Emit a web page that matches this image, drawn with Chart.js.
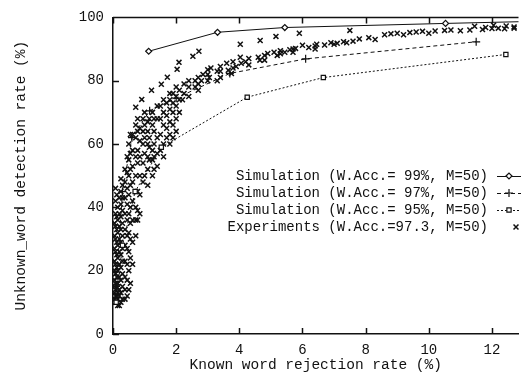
<!DOCTYPE html>
<html>
<head>
<meta charset="utf-8">
<script src="https://cdn.jsdelivr.net/npm/chart.js@4"></script>
<style>
  html, body { margin: 0; padding: 0; background: #fff; }
  #wrap { width: 524px; height: 374px; }
</style>
</head>
<body>
<div id="wrap"><canvas id="chart" width="524" height="374"></canvas></div>
<script>
// series
const SIM99_X = [1.13, 3.31, 5.44, 10.53, 14.0];
const SIM99_Y = [89.3, 95.3, 96.8, 98.1, 98.9];
const SIM97_X = [0.1, 0.3, 0.6, 1.16, 2.0, 3.7, 6.1, 11.5];
const SIM97_Y = [15, 45, 62, 70.5, 74.5, 82.3, 86.9, 92.3];
const SIM95_X = [0.1, 0.3, 0.7, 1.53, 4.25, 6.66, 12.44];
const SIM95_Y = [10, 28, 45, 59, 74.8, 81, 88.3];

const EXP_X = [
  0.08, 0.08, 0.08, 0.08, 0.08, 0.08, 0.08, 0.08, 0.08, 0.08, 0.08, 0.08,
  0.15, 0.15, 0.15, 0.15, 0.15, 0.15, 0.15, 0.15, 0.15, 0.15,
  0.25, 0.25, 0.25, 0.25, 0.25, 0.25, 0.25, 0.25, 0.25, 0.25, 0.25,
  0.38, 0.38, 0.38, 0.38, 0.38, 0.38, 0.38, 0.38, 0.38, 0.38,
  0.5, 0.5, 0.5, 0.5, 0.5, 0.5, 0.5, 0.5, 0.5,
  0.62, 0.62, 0.62, 0.62, 0.62, 0.62, 0.62, 0.62,
  0.72, 0.72, 0.72, 0.72, 0.72, 0.72, 0.72, 0.72, 0.72,
  0.85, 0.85, 0.85, 0.85, 0.85, 0.85,
  0.95, 0.95, 0.95, 0.95, 0.95,
  1.1, 1.1, 1.1, 1.1, 1.1, 1.1,
  1.25, 1.25, 1.25, 1.25, 1.25,
  1.4, 1.4, 1.4, 1.4, 1.4,
  1.6, 1.6, 1.6, 1.6, 1.6,
  1.8, 1.8, 1.8, 1.8, 1.8, 1.8,
  2.0, 2.0, 2.0, 2.0, 2.0,
  2.25, 2.25, 2.2, 2.6, 2.6, 2.8, 2.85, 3.05, 3.1, 3.3, 3.3,
  3.6, 3.65, 3.75, 3.9, 4.03, 4.06, 4.2, 4.6, 4.65, 4.9, 5.1, 5.2, 5.44, 5.6, 5.78, 6.0,
  6.2, 6.45, 6.7, 6.9, 7.1, 7.3, 7.6, 7.8, 8.1, 8.6, 8.8, 9.0, 9.4, 9.6, 9.8,
  10.2, 10.5, 10.7, 11.0, 11.3, 11.7, 12.0, 12.4, 12.7,
  0.91, 1.22, 1.53, 1.72, 2.03, 2.09, 2.53, 2.72, 4.03, 4.66, 5.16, 5.9, 7.5,
  11.45, 11.8, 12.05, 12.2, 12.45, 12.7,
  0.05, 0.05, 0.05, 0.05, 0.05, 0.05, 0.05, 0.05, 0.05,
  0.12, 0.12, 0.12, 0.12, 0.12, 0.12, 0.12, 0.12, 0.12, 0.12,
  0.2, 0.2, 0.2, 0.2, 0.2, 0.2, 0.2, 0.2, 0.2, 0.2,
  0.3, 0.3, 0.3, 0.3, 0.3, 0.3, 0.3, 0.3, 0.3, 0.3,
  0.45, 0.45, 0.45, 0.45, 0.45, 0.45, 0.45, 0.45, 0.45, 0.45,
  0.55, 0.55, 0.55, 0.55, 0.55, 0.55, 0.55, 0.55, 0.55,
  0.78, 0.78, 0.78, 0.78, 0.78, 0.78, 0.78,
  1.0, 1.0, 1.0, 1.0, 1.0,
  1.15, 1.15, 1.15, 1.15,
  1.3, 1.3, 1.3, 1.3, 1.3,
  1.5, 1.5, 1.5, 1.5,
  1.7, 1.7, 1.7, 1.7,
  1.9, 1.9, 1.9, 1.9, 1.9,
  2.1, 2.1, 2.1, 2.4, 2.4, 2.4, 2.7, 2.7, 2.7, 3.0, 3.0, 3.0,
  3.4, 3.4, 3.4, 3.8, 3.8, 4.3, 4.3, 4.8, 4.8, 5.3, 5.3, 5.7, 5.7,
  6.4, 6.4, 7.0, 7.4, 8.3, 9.2, 10.0
];
const EXP_Y = [
  10, 12, 14, 16, 19, 22, 26, 30, 34, 38, 42, 46,
  9, 11, 13, 16, 20, 24, 28, 32, 36, 40,
  10, 13, 17, 21, 25, 29, 33, 37, 41, 45, 49,
  11, 14, 18, 23, 28, 33, 38, 43, 48, 52,
  14, 20, 26, 32, 38, 44, 50, 55, 60,
  22, 29, 36, 42, 48, 53, 58, 63,
  31, 36, 40, 45, 50, 56, 62, 66, 71.6,
  38, 44, 50, 56, 61, 65,
  48, 54, 60, 64, 68,
  47, 52, 56, 60, 64, 67,
  50, 55, 58, 66, 70,
  53, 57, 62, 68, 72,
  56, 60, 66, 70, 74,
  60, 63, 67, 71, 74, 76,
  64, 68, 72, 75, 78,
  79, 76, 74, 78, 80, 80, 82, 81, 84, 80, 83,
  85.5, 83.3, 82.3, 84.5, 87.4, 85.5, 86, 87.4, 86.5, 88.6, 89, 88, 89, 89.8, 90.2, 91.2,
  90.5, 91.5, 91.3, 92, 91.8, 92.3, 92.5, 93.2, 93.6, 94.5, 94.8, 95, 95.2, 95.4, 95.6,
  95.7, 95.9, 96, 95.8, 96, 96.2, 96.5, 96.4, 96.6,
  74.1, 77, 78.9, 81.1, 83.6, 85.8, 87.7, 89.3, 91.5, 92.7, 94, 95, 95.9,
  97.2, 96.8, 97.5, 96.6, 97.3, 97,
  11, 13, 15, 17, 20, 23, 27, 31, 35,
  10, 12, 15, 18, 21, 25, 29, 33, 37, 44,
  9, 12, 14, 18, 22, 26, 30, 34, 38, 43,
  11, 15, 19, 23, 27, 31, 35, 39, 43, 47,
  12, 17, 22, 27, 31, 36, 41, 46, 51, 56,
  16, 24, 30, 35, 40, 47, 52, 57, 63,
  36, 39, 45, 54, 58, 64, 68,
  50, 57, 62, 66, 70,
  55, 59, 62, 68,
  52, 56, 60, 64, 68,
  58, 63, 68, 72,
  62, 65, 69, 73,
  62, 66, 70, 73, 76,
  70, 74, 77, 75, 78, 80, 77, 79, 81, 80, 82, 83.5,
  81, 83, 84.5, 84, 86, 85, 87, 86.5, 88, 88.5, 89.5, 89, 90,
  90, 91, 91.5, 92, 93, 94.5, 95
];

const X_TICKS = [0, 2, 4, 6, 8, 10, 12];
const Y_TICKS = [0, 20, 40, 60, 80, 100];

const LEGEND_LABELS = [
  "Simulation (W.Acc.= 99%, M=50)",
  "Simulation (W.Acc.= 97%, M=50)",
  "Simulation (W.Acc.= 95%, M=50)",
  "Experiments (W.Acc.=97.3, M=50)"
];

const MONO = "'Liberation Mono', 'DejaVu Sans Mono', monospace";
const INK = "#111";

function pts(xs, ys) {
  return xs.map((x, i) => ({ x: x, y: ys[i] }));
}

// gnuplot style: inward ticks + top border
const frame = {
  id: "frame",
  afterDraw(chart) {
    const { ctx, chartArea: a, scales } = chart;
    ctx.save();
    ctx.strokeStyle = INK;
    ctx.lineWidth = 1.5;
    ctx.beginPath();
    ctx.moveTo(a.left, a.top);
    ctx.lineTo(a.right, a.top);
    X_TICKS.forEach((v) => {
      const px = Math.round(scales.x.getPixelForValue(v)) + 0.5;
      ctx.moveTo(px, a.bottom);
      ctx.lineTo(px, a.bottom - 6);
      ctx.moveTo(px, a.top);
      ctx.lineTo(px, a.top + 6);
    });
    Y_TICKS.forEach((v) => {
      const py = Math.round(scales.y.getPixelForValue(v)) + 0.5;
      ctx.moveTo(a.left, py);
      ctx.lineTo(a.left + 6, py);
    });
    ctx.stroke();
    ctx.restore();
  }
};

// key inside the plot, text right aligned, sample on the right
const key = {
  id: "key",
  afterDraw(chart) {
    const { ctx } = chart;
    ctx.save();
    ctx.font = "14px " + MONO;
    ctx.textAlign = "right";
    ctx.textBaseline = "middle";
    chart.data.datasets.forEach((ds, i) => {
      const y = 176 + i * 17;
      ctx.fillStyle = INK;
      ctx.fillText(LEGEND_LABELS[i], 488, y);
      ctx.strokeStyle = INK;
      if (ds.showLine) {
        ctx.lineWidth = 1;
        ctx.setLineDash(ds.borderDash || []);
        ctx.beginPath();
        ctx.moveTo(497, y + 0.5);
        ctx.lineTo(521, y + 0.5);
        ctx.stroke();
        ctx.setLineDash([]);
      }
      ctx.fillStyle = ds.pointBackgroundColor || INK;
      ctx.lineWidth = ds.pointBorderWidth || 1;
      Chart.helpers.drawPoint(ctx, {
        pointStyle: ds.pointStyle,
        radius: ds.pointRadius,
        borderWidth: ds.pointBorderWidth || 1,
        rotation: 0
      }, ds.showLine ? 509 : 516, y);
    });
    ctx.restore();
  }
};

new Chart(document.getElementById("chart"), {
  type: "scatter",
  data: {
    datasets: [
      {
        data: pts(SIM99_X, SIM99_Y),
        showLine: true,
        borderColor: INK,
        borderWidth: 1,
        pointStyle: "rectRot",
        pointRadius: 3,
        pointBorderWidth: 1.2,
        pointBackgroundColor: "#fff",
        pointBorderColor: INK
      },
      {
        data: pts(SIM97_X, SIM97_Y),
        showLine: true,
        borderColor: INK,
        borderWidth: 1,
        borderDash: [4, 3],
        pointStyle: "cross",
        pointRadius: 4,
        pointBorderWidth: 1.2,
        pointBorderColor: INK
      },
      {
        data: pts(SIM95_X, SIM95_Y),
        showLine: true,
        borderColor: INK,
        borderWidth: 1,
        borderDash: [2, 2],
        pointStyle: "rect",
        pointRadius: 3,
        pointBorderWidth: 1.2,
        pointBackgroundColor: "#fff",
        pointBorderColor: INK
      },
      {
        data: pts(EXP_X, EXP_Y),
        showLine: false,
        pointStyle: "crossRot",
        pointRadius: 3.5,
        pointBorderWidth: 1.5,
        pointBorderColor: INK
      }
    ]
  },
  options: {
    responsive: false,
    animation: false,
    events: [],
    layout: { padding: { top: 17, right: 0, bottom: 0, left: 0 } },
    plugins: { legend: { display: false }, tooltip: { enabled: false } },
    scales: {
      x: {
        type: "linear",
        min: 0,
        max: 12.84,
        afterFit(s) { s.height = 40; },
        afterBuildTicks(s) { s.ticks = X_TICKS.map((v) => ({ value: v })); },
        grid: { display: false, drawTicks: false },
        border: { display: true, color: INK, width: 1.5 },
        ticks: { color: INK, font: { family: MONO, size: 14 }, padding: 8, maxRotation: 0 },
        title: {
          display: true,
          text: "Known word rejection rate (%)",
          color: INK,
          font: { family: MONO, size: 14.5 },
          padding: { top: -5, bottom: 0 }
        }
      },
      y: {
        type: "linear",
        min: 0,
        max: 100,
        afterFit(s) { s.width = 113; },
        afterBuildTicks(s) { s.ticks = Y_TICKS.map((v) => ({ value: v })); },
        grid: { display: false, drawTicks: false },
        border: { display: true, color: INK, width: 1.5 },
        ticks: { color: INK, font: { family: MONO, size: 14 }, padding: 9 },
        title: {
          display: true,
          text: "Unknown_word detection rate (%)",
          color: INK,
          font: { family: MONO, size: 14.5 },
          padding: { top: 12, bottom: 0 }
        }
      }
    }
  },
  plugins: [frame, key]
});
</script>
</body>
</html>
